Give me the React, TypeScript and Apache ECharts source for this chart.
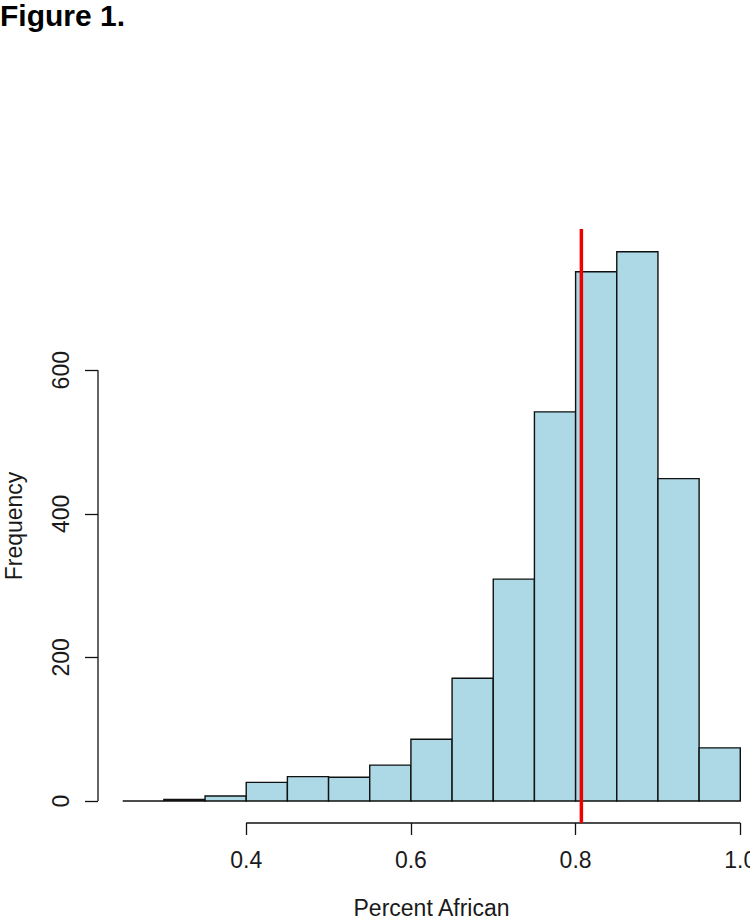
import React, { useEffect, useRef } from "react";
import * as echarts from "echarts";

// Histogram bins (Percent African), width 0.05
const binStarts = [0.25, 0.3, 0.35, 0.4, 0.45, 0.5, 0.55, 0.6, 0.65, 0.7, 0.75, 0.8, 0.85, 0.9, 0.95];
const binEnds = [0.3, 0.35, 0.4, 0.45, 0.5, 0.55, 0.6, 0.65, 0.7, 0.75, 0.8, 0.85, 0.9, 0.95, 1.0];
const counts = [0, 2, 7, 26, 34, 33, 50, 86, 171, 309, 542, 737, 765, 449, 74];

const xTicks = [0.4, 0.6, 0.8, 1.0];
const yTicks = [0, 200, 400, 600];
const meanLine = 0.807;

const X_MIN = 0.22;
const X_MAX = 1.03;
const Y_MIN = -30.64;
const Y_MAX = 796.64;

const FONT = "'Liberation Sans', Arial, sans-serif";

export default function App() {
  const ref = useRef<HTMLDivElement>(null);

  useEffect(() => {
    if (!ref.current) return;
    const chart = echarts.init(ref.current, null, { renderer: "svg" });
    const barData = binStarts.map((s, i) => [s, binEnds[i], counts[i]]);

    chart.setOption({
      animation: false,
      backgroundColor: "#ffffff",
      textStyle: { fontFamily: FONT },
      graphic: [
        {
          type: "text",
          left: 0,
          top: 0,
          style: {
            text: "Figure 1.",
            fontFamily: FONT,
            fontWeight: "bold",
            fontSize: 30,
            fill: "#000",
          },
        },
      ],
      grid: { left: 98, right: 0, top: 229, bottom: 95, containLabel: false, outerBoundsMode: "none" },
      xAxis: {
        type: "value",
        min: X_MIN,
        max: X_MAX,
        axisLine: { show: false, onZero: false },
        splitLine: { show: false },
        axisTick: {
          show: true,
          length: 12,
          customValues: xTicks,
          lineStyle: { color: "#111", width: 1.3 },
        },
        axisLabel: {
          customValues: xTicks,
          margin: 25,
          fontSize: 23,
          color: "#1a1a1a",
          fontFamily: FONT,
          formatter: (v: number) => v.toFixed(1),
        },
        name: "Percent African",
        nameLocation: "middle",
        nameGap: 73,
        nameTextStyle: { fontSize: 23, color: "#1a1a1a", fontFamily: FONT },
      },
      yAxis: {
        type: "value",
        min: Y_MIN,
        max: Y_MAX,
        axisLine: { show: false, onZero: false },
        splitLine: { show: false },
        axisTick: {
          show: true,
          length: 13,
          customValues: yTicks,
          lineStyle: { color: "#111", width: 1.3 },
        },
        axisLabel: {
          customValues: yTicks,
          rotate: 90,
          margin: 26,
          fontSize: 23,
          color: "#1a1a1a",
          fontFamily: FONT,
        },
        name: "Frequency",
        nameLocation: "middle",
        nameRotate: 90,
        nameGap: 73,
        nameTextStyle: { fontSize: 23, color: "#1a1a1a", fontFamily: FONT },
      },
      series: [
        {
          type: "custom",
          data: barData,
          encode: { x: [0, 1], y: 2 },
          clip: false,
          renderItem: (params: any, api: any) => {
            const x0 = api.value(0);
            const x1 = api.value(1);
            const c = api.value(2);
            const p0 = api.coord([x0, c]);
            const p1 = api.coord([x1, 0]);
            return {
              type: "rect",
              shape: { x: p0[0], y: p0[1], width: p1[0] - p0[0], height: p1[1] - p0[1] },
              style: { fill: "#ADD8E6", stroke: "#111", lineWidth: 1.4 },
            };
          },
        },
        {
          type: "line",
          data: [
            [xTicks[0], Y_MIN],
            [xTicks[xTicks.length - 1], Y_MIN],
          ],
          symbol: "none",
          clip: false,
          silent: true,
          lineStyle: { color: "#111", width: 1.3 },
        },
        {
          type: "line",
          data: [
            [X_MIN, yTicks[0]],
            [X_MIN, yTicks[yTicks.length - 1]],
          ],
          symbol: "none",
          clip: false,
          silent: true,
          lineStyle: { color: "#111", width: 1.3 },
        },
        {
          type: "line",
          data: [
            [meanLine, Y_MIN],
            [meanLine, Y_MAX],
          ],
          symbol: "none",
          clip: false,
          silent: true,
          lineStyle: { color: "#ee0000", width: 3.5 },
          z: 5,
        },
      ],
    });

    return () => chart.dispose();
  }, []);

  return (
    <div
      style={{
        position: "fixed",
        left: 0,
        top: 0,
        width: 750,
        height: 918,
        overflow: "hidden",
        background: "#fff",
      }}
    >
      <div ref={ref} style={{ width: 765, height: 918 }} />
    </div>
  );
}
